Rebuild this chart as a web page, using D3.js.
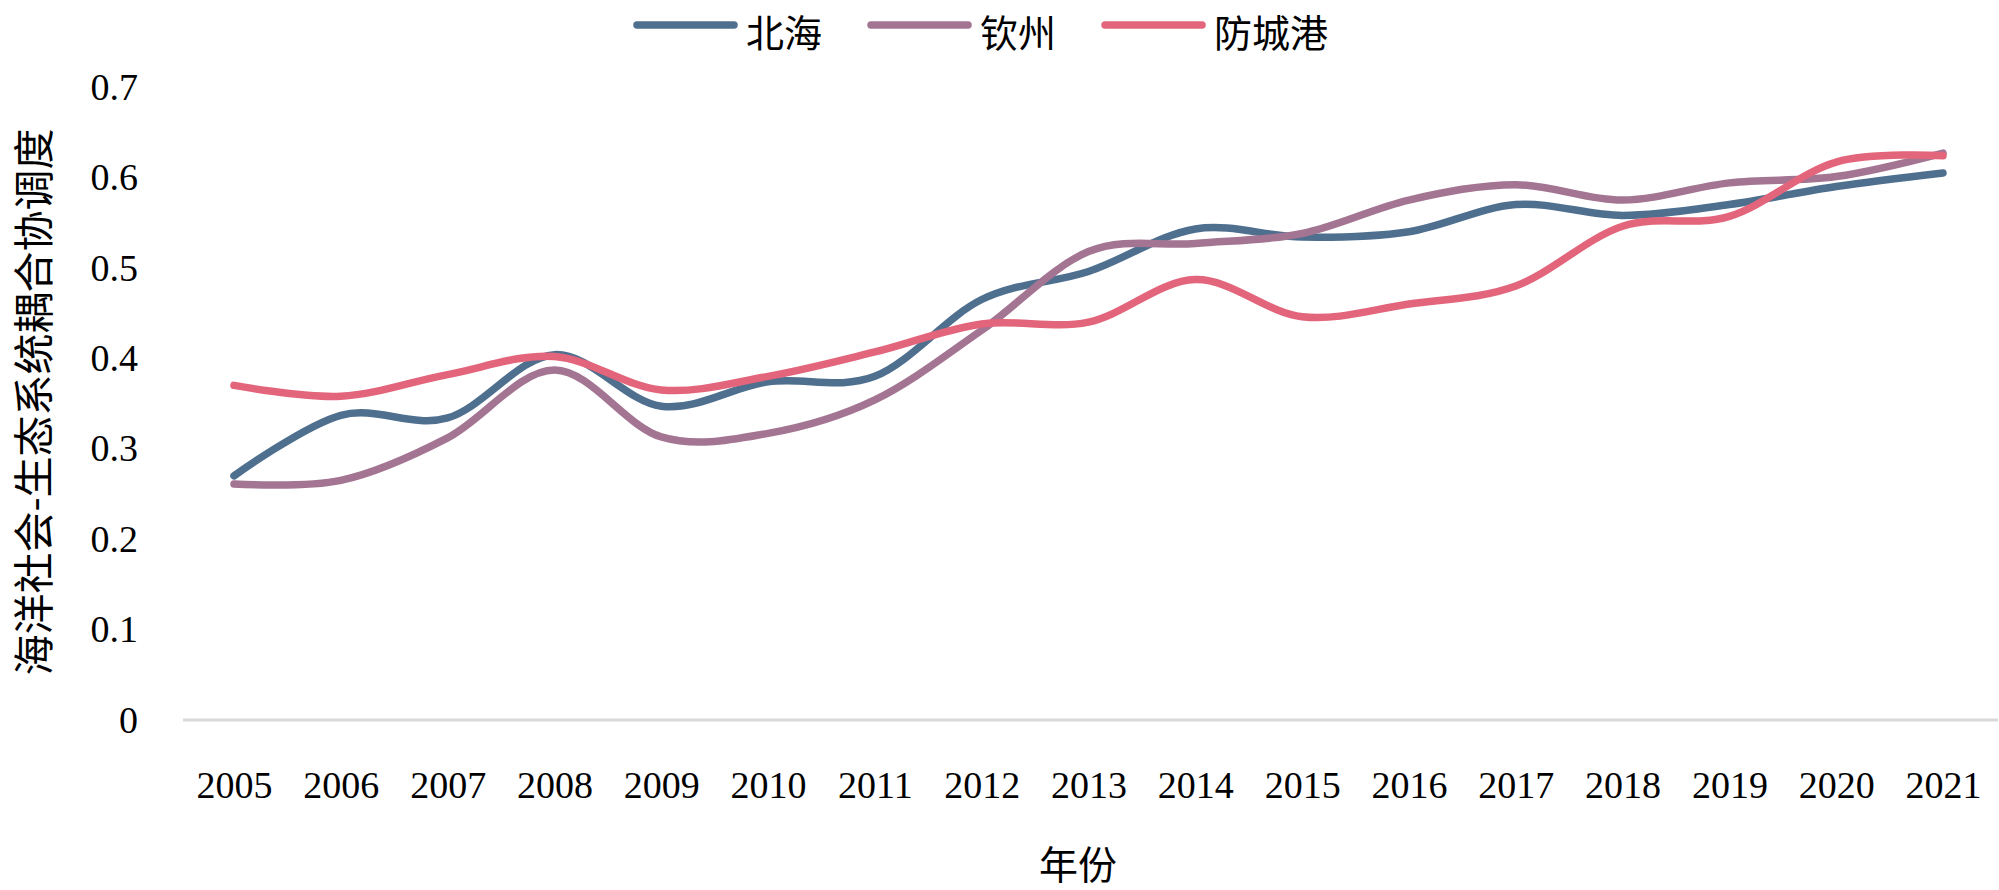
<!DOCTYPE html>
<html>
<head>
<meta charset="utf-8">
<script src="https://cdn.jsdelivr.net/npm/d3@7"></script>
<style>
  html, body { margin: 0; padding: 0; background: #fff; }
  svg { display: block; }
  text { font-family: "Liberation Serif", "Times New Roman", "Noto Sans CJK SC", serif; fill: #000; }
</style>
</head>
<body>
<svg id="chart" width="1999" height="890"></svg>
<script>
const years = ["2005","2006","2007","2008","2009","2010","2011","2012","2013","2014","2015","2016","2017","2018","2019","2020","2021"];
const beihai =   [0.270,0.337,0.334,0.404,0.347,0.374,0.380,0.465,0.496,0.543,0.534,0.540,0.570,0.558,0.570,0.590,0.605];
const qinzhou =  [0.261,0.265,0.312,0.387,0.313,0.317,0.354,0.431,0.518,0.527,0.538,0.575,0.592,0.575,0.594,0.601,0.627];
const fangcheng = [0.370,0.358,0.382,0.402,0.365,0.380,0.407,0.438,0.440,0.487,0.446,0.460,0.480,0.546,0.557,0.617,0.624];
const seriesNames = ["北海","钦州","防城港"];
const seriesColors = ["#4f6f8f","#a37593","#e3657b"];
const yTicks = [0,0.1,0.2,0.3,0.4,0.5,0.6,0.7];
const yTitle = "海洋社会-生态系统耦合协调度";
const xTitle = "年份";

const series = [beihai, qinzhou, fangcheng].map((vals, i) => ({
  name: seriesNames[i], color: seriesColors[i],
  values: vals.map((v, j) => ({ year: years[j], value: v }))
}));

const svg = d3.select("#chart");
const plotLeft = 183, plotRight = 1998, plotTop = 87, plotBottom = 720;

const x = d3.scalePoint().domain(years).range([234, 1943]);
const y = d3.scaleLinear().domain([0, 0.7]).range([plotBottom, plotTop]);

// zero gridline
svg.append("line")
  .attr("x1", plotLeft).attr("x2", plotRight)
  .attr("y1", y(0)).attr("y2", y(0))
  .attr("stroke", "#d9d9d9").attr("stroke-width", 3);

// y axis
const yAxis = svg.append("g")
  .attr("transform", `translate(${plotLeft},0)`)
  .call(d3.axisLeft(y).tickValues(yTicks).tickSize(0).tickPadding(45)
    .tickFormat(d => d === 0 ? "0" : d.toFixed(1)));
yAxis.select(".domain").remove();
yAxis.selectAll("text").style("font-size", "38px")
  .style("font-family", '"Liberation Serif", "Times New Roman", serif');

// x axis
const xAxis = svg.append("g")
  .attr("transform", `translate(0,${plotBottom})`)
  .call(d3.axisBottom(x).tickSize(0).tickPadding(51));
xAxis.select(".domain").remove();
xAxis.selectAll("text").style("font-size", "38px")
  .style("font-family", '"Liberation Serif", "Times New Roman", serif');

// lines
const line = d3.line()
  .x(d => x(d.year))
  .y(d => y(d.value))
  .curve(d3.curveCatmullRom.alpha(0));

svg.append("g").selectAll("path")
  .data(series)
  .join("path")
  .attr("d", d => line(d.values))
  .attr("fill", "none")
  .attr("stroke", d => d.color)
  .attr("stroke-width", 7.5)
  .attr("stroke-linecap", "round")
  .attr("stroke-linejoin", "round");

// axis titles
svg.append("text")
  .attr("transform", "translate(31,402) rotate(-90)")
  .attr("text-anchor", "middle")
  .attr("dominant-baseline", "central")
  .style("font-size", "41px")
  .style("font-family", '"Noto Sans CJK SC", sans-serif')
  .text(yTitle);

svg.append("text")
  .attr("x", 1078).attr("y", 862)
  .attr("text-anchor", "middle")
  .attr("dominant-baseline", "central")
  .style("font-size", "39px")
  .style("font-family", '"Noto Sans CJK SC", sans-serif')
  .text(xTitle);

// legend
const legend = svg.append("g");
let lx = 637;
const ly = 25;
series.forEach(s => {
  const g = legend.append("g");
  g.append("line")
    .attr("x1", lx).attr("x2", lx + 97)
    .attr("y1", ly).attr("y2", ly)
    .attr("stroke", s.color).attr("stroke-width", 7.5)
    .attr("stroke-linecap", "round");
  const t = g.append("text")
    .attr("x", lx + 109).attr("y", ly + 5)
    .attr("dominant-baseline", "central")
    .style("font-size", "38px")
    .style("font-family", '"Noto Sans CJK SC", sans-serif')
    .text(s.name);
  lx = lx + 109 + t.node().getComputedTextLength() + 49;
});
</script>
</body>
</html>
